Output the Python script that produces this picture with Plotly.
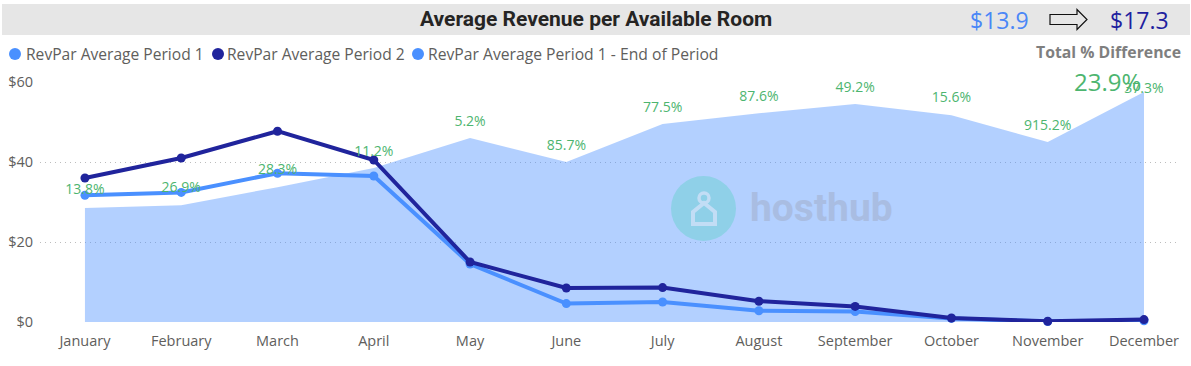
import plotly.graph_objects as go

months = ["January","February","March","April","May","June","July","August","September","October","November","December"]
period1 = [31.7,32.4,37.2,36.5,14.5,4.6,5.0,2.8,2.6,0.9,0.1,0.3]
period2 = [36.0,41.0,47.7,40.5,15.0,8.5,8.6,5.2,3.9,1.0,0.2,0.6]
period1_end = [28.5,29.2,33.7,38.5,46.0,40.0,49.5,52.2,54.5,51.7,45.0,57.5]
pct_labels = ["13.8%","26.9%","28.3%","11.2%","5.2%","85.7%","77.5%","87.6%","49.2%","15.6%","915.2%","37.3%"]
label_y = [28.9,29.5,34.0,38.5,46.0,40.0,49.5,52.2,54.5,51.9,45.0,56.3]
label_gap = [12,12,12,12,12,12,12,12,12,12,12,0]
legend_names = ["RevPar Average Period 1","RevPar Average Period 2","RevPar Average Period 1 - End of Period"]
y_ticks = [0,20,40,60]

FONT = "Open Sans"
C1, C2, CAREA = "#4A90FF", "#20249C", "rgba(74,144,255,0.42)"
GREEN, GREY = "#4DB56F", "#605E5C"
W, H = 1191, 366
L, R, T, B = 40, 11, 82, 44
def px(x): return (x - L) / (W - L - R)
def py(y): return (H - B - y) / (H - B - T)

fig = go.Figure()
fig.add_trace(go.Scatter(x=months, y=period1_end, mode="none", fill="tozeroy", fillcolor=CAREA,
                         name=legend_names[2], showlegend=False))
fig.add_trace(go.Scatter(x=months, y=period1, mode="lines+markers", name=legend_names[0], showlegend=False,
                         line=dict(color=C1, width=4), marker=dict(color=C1, size=9), cliponaxis=False))
fig.add_trace(go.Scatter(x=months, y=period2, mode="lines+markers", name=legend_names[1], showlegend=False,
                         line=dict(color=C2, width=4), marker=dict(color=C2, size=9), cliponaxis=False))
fig.add_trace(go.Scatter(x=months, y=label_y, mode="markers+text", text=pct_labels, textposition="top center",
                         marker=dict(size=label_gap, opacity=0), hoverinfo="skip",
                         textfont=dict(family=FONT, size=14, color=GREEN), showlegend=False, cliponaxis=False))

shapes = [
    dict(type="rect", xref="paper", yref="paper", x0=px(2), x1=px(1190), y0=py(35), y1=py(4),
         fillcolor="#E6E6E6", line_width=0, layer="below"),
    dict(type="path", xref="paper", yref="paper",
         path="M {} {} L {} {} L {} {} L {} {} L {} {} L {} {} L {} {} Z".format(
             px(1050),py(14.5),px(1077),py(14.5),px(1077),py(9.5),px(1087),py(19.5),
             px(1077),py(29.5),px(1077),py(24.5),px(1050),py(24.5)),
         fillcolor="rgba(0,0,0,0)", line=dict(color="#111111", width=1.2)),
    dict(type="circle", xref="paper", yref="paper", x0=px(671), x1=px(736), y0=py(241), y1=py(176),
         fillcolor="#8FD0E8", line_width=0),
    dict(type="path", xref="paper", yref="paper",
         path="M {} {} L {} {} L {} {} L {} {} L {} {} Z".format(
             px(693),py(224),px(693),py(212),px(704),py(203),px(715),py(212),px(715),py(224)),
         fillcolor="rgba(0,0,0,0)", line=dict(color="#C2DDF5", width=4)),
    dict(type="circle", xref="paper", yref="paper", x0=px(699), x1=px(709), y0=py(203), y1=py(193),
         fillcolor="rgba(0,0,0,0)", line=dict(color="#C2DDF5", width=3.5)),
]
for xc, col in [(15, C1), (218, C2), (418, C1)]:
    shapes.append(dict(type="circle", xref="paper", yref="paper", x0=px(xc-6), x1=px(xc+6),
                       y0=py(60), y1=py(48), fillcolor=col, line_width=0))

def note(x, y, text, size, color, anchor="left", bold=False, family=FONT):
    return dict(xref="paper", yref="paper", x=px(x), y=py(y), text=f"<b>{text}</b>" if bold else text,
                showarrow=False, xanchor=anchor, yanchor="middle",
                font=dict(family=family, size=size, color=color))

annotations = [
    note(596, 19, "Average Revenue per Available Room", 21, "#252423", "center", True, "Roboto"),
    note(999, 20, "$13.9", 23, "#4A86F7", "center"),
    note(1139, 20, "$17.3", 23, "#1F1F9F", "center"),
    note(1108, 52, "Total % Difference", 15.8, "#7F7F7F", "center", True),
    note(1107, 81, "23.9%", 24, GREEN, "center"),
    note(24, 54, legend_names[0], 15.6, GREY),
    note(225, 54, legend_names[1], 15.6, GREY),
    note(426, 54, legend_names[2], 15.7, GREY),
    note(821, 208, "hosthub", 39, "#A9BDE2", "center", True, "Roboto"),
]

fig.update_layout(
    width=W, height=H, margin=dict(l=L, r=R, t=T, b=B, pad=0, autoexpand=False),
    paper_bgcolor="white", plot_bgcolor="white", showlegend=False,
    shapes=shapes, annotations=annotations,
    font=dict(family=FONT, size=14, color=GREY),
    xaxis=dict(type="category", categoryorder="array", categoryarray=months, range=[-0.467, 11.374],
               showgrid=False, zeroline=False, showline=False, ticks="outside", ticklen=6,
               tickcolor="rgba(0,0,0,0)", tickfont=dict(family=FONT, size=14.5, color=GREY)),
    yaxis=dict(range=[0, 60], tickvals=y_ticks, ticktext=[f"${v}" for v in y_ticks],
               showgrid=True, gridcolor="#BDBDBD", griddash="1px,4px", gridwidth=1, zeroline=False,
               showline=False, tickfont=dict(family=FONT, size=14.5, color=GREY), ticks="outside",
               ticklen=3, tickcolor="rgba(0,0,0,0)"),
)
fig.write_html("out.html", config=dict(displayModeBar=False),
               post_script="document.body.style.margin='0';document.documentElement.style.overflow='hidden';")
